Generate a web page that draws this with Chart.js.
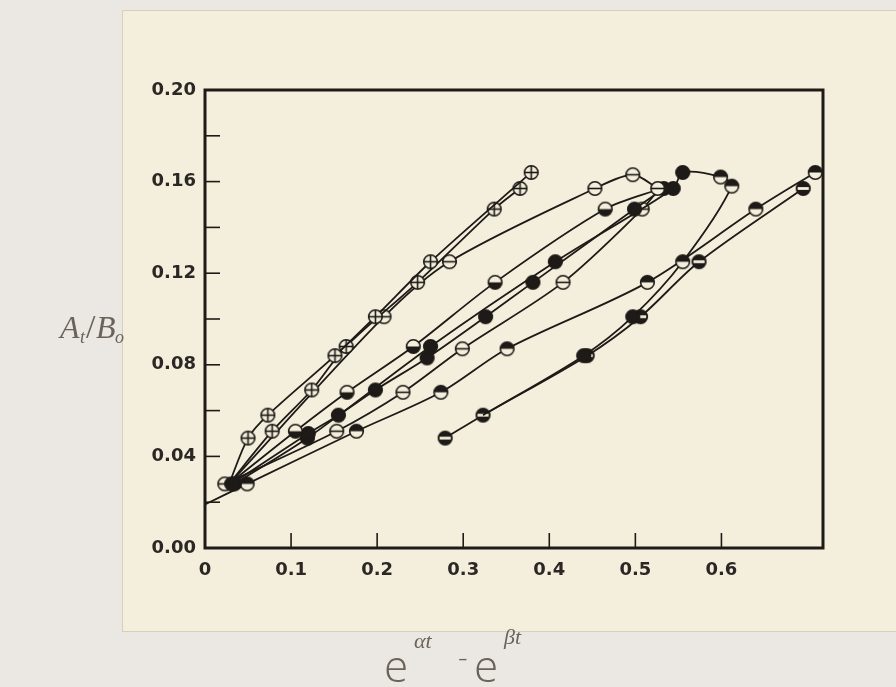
<!DOCTYPE html>
<html>
<head>
<meta charset="utf-8">
<script src="https://cdn.jsdelivr.net/npm/chart.js@4.4.1/dist/chart.umd.min.js"></script>
<style>
  html, body { margin: 0; padding: 0; background: #ebe8e3; }
  #wrap { width: 896px; height: 687px; }
</style>
</head>
<body>
<div id="wrap"><canvas id="loopChart" width="896" height="687"></canvas></div>
<script>
// Hand-drawn plot: At/Bo against e^(at) - e^(bt), several runs fanning out of one start cluster

// tick labels
var xTickLabels = ['0', '0.1', '0.2', '0.3', '0.4', '0.5', '0.6', ''];
var yTickLabels = ['0.00', '', '0.04', '', '0.08', '', '0.12', '', '0.16', '', '0.20'];

// crossed circles, upper run
var s1X = [0.028, 0.050, 0.073, 0.151, 0.198, 0.262, 0.379];
var s1Y = [0.028, 0.048, 0.058, 0.084, 0.101, 0.125, 0.164];
// crossed circles, lower run
var s2X = [0.028, 0.078, 0.124, 0.164, 0.247, 0.336, 0.366];
var s2Y = [0.028, 0.051, 0.069, 0.088, 0.116, 0.148, 0.157];
// barred circles, hook at the top
var s3X = [0.028, 0.208, 0.284, 0.453, 0.497, 0.526];
var s3Y = [0.028, 0.101, 0.125, 0.157, 0.163, 0.157];
// lower half filled
var s4X = [0.028, 0.105, 0.165, 0.242, 0.337, 0.465, 0.530];
var s4Y = [0.028, 0.051, 0.068, 0.088, 0.116, 0.148, 0.157];
// solid, straight run
var s5X = [0.031, 0.120, 0.155, 0.198, 0.258, 0.326, 0.381, 0.499, 0.533];
var s5Y = [0.028, 0.050, 0.058, 0.069, 0.083, 0.101, 0.116, 0.148, 0.157];
// solid, goes round the big loop and comes back down
var s6X = [0.034, 0.119, 0.262, 0.407, 0.544, 0.555, 0.599, 0.612, 0.555, 0.497, 0.440, 0.323];
var s6Y = [0.028, 0.048, 0.088, 0.125, 0.157, 0.164, 0.162, 0.158, 0.125, 0.101, 0.084, 0.058];
// barred circles, middle run
var s7X = [0.023, 0.153, 0.230, 0.299, 0.416, 0.508, 0.528];
var s7Y = [0.028, 0.051, 0.068, 0.087, 0.116, 0.148, 0.157];
// upper half filled, from the y axis
var s8X = [0.000, 0.049, 0.176, 0.274, 0.351, 0.514, 0.640, 0.709];
var s8Y = [0.019, 0.028, 0.051, 0.068, 0.087, 0.116, 0.148, 0.164];
// striped, lower right
var s9X = [0.279, 0.323, 0.444, 0.506, 0.574, 0.695];
var s9Y = [0.048, 0.058, 0.084, 0.101, 0.125, 0.157];

var ink = '#1d1a17';
var paper = '#f4efdc';

function toPoints(xs, ys) {
  return xs.map(function (x, i) { return { x: x, y: ys[i] }; });
}

// little marker images, drawn once
function makeMarker(kind) {
  var c = document.createElement('canvas');
  c.width = 17; c.height = 17;
  var g = c.getContext('2d');
  var cx = 8.5, cy = 8.5, r = 6.8;
  g.lineWidth = 1.6;
  g.strokeStyle = ink;
  g.fillStyle = paper;
  g.beginPath(); g.arc(cx, cy, r, 0, Math.PI * 2); g.fill();
  g.fillStyle = ink;
  if (kind === 'solid' || kind === 'striped') {
    g.beginPath(); g.arc(cx, cy, r, 0, Math.PI * 2); g.fill();
  }
  if (kind === 'top') {
    g.beginPath(); g.arc(cx, cy, r, Math.PI, Math.PI * 2); g.closePath(); g.fill();
  }
  if (kind === 'bottom') {
    g.beginPath(); g.arc(cx, cy, r, 0, Math.PI); g.closePath(); g.fill();
  }
  if (kind === 'striped') {
    g.fillStyle = paper;
    g.fillRect(cx - r + 1, cy - 1.4, r * 2 - 2, 2.8);
  }
  if (kind === 'bar' || kind === 'plus') {
    g.beginPath(); g.moveTo(cx - r, cy); g.lineTo(cx + r, cy); g.stroke();
  }
  if (kind === 'plus') {
    g.beginPath(); g.moveTo(cx, cy - r); g.lineTo(cx, cy + r); g.stroke();
  }
  g.beginPath(); g.arc(cx, cy, r, 0, Math.PI * 2); g.stroke();
  return c;
}

var mk = {
  plus: makeMarker('plus'),
  bar: makeMarker('bar'),
  solid: makeMarker('solid'),
  top: makeMarker('top'),
  bottom: makeMarker('bottom'),
  striped: makeMarker('striped')
};

// radius 0 = no marker drawn at that point
function radii(n, hidden) {
  var out = [];
  for (var i = 0; i < n; i++) out.push(hidden.indexOf(i) >= 0 ? 0 : 7);
  return out;
}

function run(xs, ys, style, hidden) {
  return {
    data: toPoints(xs, ys),
    showLine: true,
    borderColor: ink,
    borderWidth: 1.8,
    tension: 0.3,
    pointStyle: style,
    pointRadius: radii(xs.length, hidden || []),
    pointBorderWidth: 0,
    pointBackgroundColor: ink
  };
}

var s6Styles = [mk.solid, mk.solid, mk.solid, mk.solid, mk.solid, mk.solid,
  mk.top, mk.top, mk.top, mk.solid, mk.solid, mk.solid];

var paperPlugin = {
  id: 'paper',
  beforeDraw: function (chart) {
    var ctx = chart.ctx;
    ctx.save();
    ctx.fillStyle = '#ebe8e3';
    ctx.fillRect(0, 0, chart.width, chart.height);
    // photographed card
    ctx.fillStyle = paper;
    ctx.fillRect(122, 10, chart.width - 122, 622);
    ctx.strokeStyle = 'rgba(120,110,90,0.25)';
    ctx.lineWidth = 1;
    ctx.strokeRect(122.5, 10.5, chart.width, 621);
    ctx.restore();
  },
  afterDraw: function (chart) {
    var ctx = chart.ctx;
    var a = chart.chartArea;
    var xs = chart.scales.x, ys = chart.scales.y;
    ctx.save();
    ctx.strokeStyle = ink;
    ctx.lineWidth = 3;
    ctx.strokeRect(a.left, a.top, a.right - a.left, a.bottom - a.top);
    // inward ticks
    ctx.lineWidth = 1.6;
    ys.ticks.forEach(function (t) {
      if (t.value <= 0 || t.value >= 0.2) return;
      var py = ys.getPixelForValue(t.value);
      ctx.beginPath(); ctx.moveTo(a.left, py); ctx.lineTo(a.left + 15, py); ctx.stroke();
    });
    xs.ticks.forEach(function (t) {
      var k = Math.round(t.value * 10);
      if (t.value <= 0 || Math.abs(t.value - k / 10) > 1e-6) return;
      var px = xs.getPixelForValue(t.value);
      ctx.beginPath(); ctx.moveTo(px, a.bottom); ctx.lineTo(px, a.bottom - 15); ctx.stroke();
    });
    // axis titles, written by hand in the original
    ctx.fillStyle = '#6b6359';
    ctx.font = 'italic 32px "Liberation Serif"';
    ctx.textBaseline = 'alphabetic';
    ctx.fillText('A', 60, 338);
    ctx.font = 'italic 18px "Liberation Serif"';
    ctx.fillText('t', 80, 343);
    ctx.font = '34px "Liberation Serif"';
    ctx.fillText('/', 86, 338);
    ctx.font = 'italic 32px "Liberation Serif"';
    ctx.fillText('B', 96, 338);
    ctx.font = 'italic 18px "Liberation Serif"';
    ctx.fillText('o', 115, 343);
    ctx.font = '300 44px "Open Sans"';
    ctx.fillText('e', 384, 682);
    ctx.fillText('e', 474, 682);
    ctx.font = 'italic 22px "Liberation Serif"';
    ctx.fillText('\u03b1t', 414, 648);
    ctx.fillText('\u03b2t', 504, 644);
    ctx.font = '300 30px "Open Sans"';
    ctx.fillText('-', 458, 668);
    ctx.restore();
  }
};

var tickFont = { family: '"DejaVu Sans"', size: 18, weight: 'bold' };

new Chart(document.getElementById('loopChart'), {
  type: 'scatter',
  data: {
    datasets: [
      run(s1X, s1Y, mk.plus, [0]),
      run(s2X, s2Y, mk.plus, [0]),
      run(s3X, s3Y, mk.bar, [0]),
      run(s4X, s4Y, mk.bottom, [0, 6]),
      run(s5X, s5Y, mk.solid),
      run(s6X, s6Y, s6Styles, [11]),
      run(s7X, s7Y, mk.bar, [6]),
      run(s8X, s8Y, mk.top, [0]),
      run(s9X, s9Y, mk.striped)
    ]
  },
  options: {
    responsive: false,
    animation: false,
    layout: { padding: { top: 90, right: 73, left: 0, bottom: 0 } },
    plugins: {
      legend: { display: false },
      tooltip: { enabled: false }
    },
    scales: {
      x: {
        type: 'linear',
        min: 0,
        max: 0.718,
        grid: { display: false, drawTicks: false },
        border: { display: false },
        ticks: {
          stepSize: 0.1,
          padding: 12,
          color: '#2b2724',
          font: tickFont,
          maxRotation: 0,
          autoSkip: false,
          callback: function (v) {
            var k = Math.round(v * 10);
            if (Math.abs(v - k / 10) > 1e-6) return '';
            return xTickLabels[k] || '';
          }
        },
        afterFit: function (s) { s.height = 139; }
      },
      y: {
        min: 0,
        max: 0.2,
        grid: { display: false, drawTicks: false },
        border: { display: false },
        ticks: {
          stepSize: 0.02,
          padding: 9,
          color: '#2b2724',
          font: tickFont,
          autoSkip: false,
          callback: function (v) {
            var k = Math.round(v * 50);
            return yTickLabels[k] || '';
          }
        },
        afterFit: function (s) { s.width = 205; }
      }
    }
  },
  plugins: [paperPlugin]
});
</script>
</body>
</html>
